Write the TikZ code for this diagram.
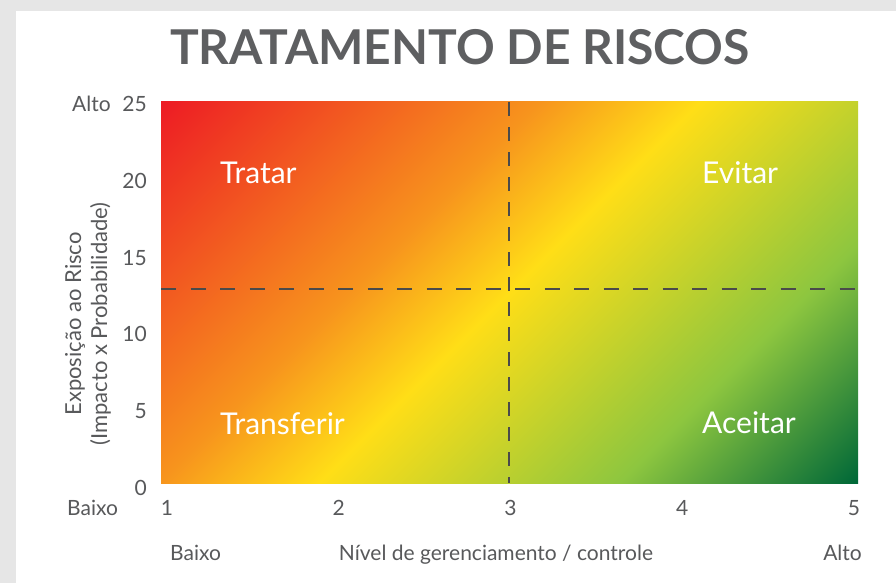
\documentclass[tikz,border=0pt]{standalone}
\usepackage{fontspec}
\setmainfont{Lato}
\usetikzlibrary{positioning}
\definecolor{pagegray}{HTML}{E6E6E6}
\definecolor{txtgray}{HTML}{58595B}
\definecolor{titlegray}{HTML}{5E5F61}
\definecolor{dashgray}{HTML}{4A4A4A}
\definecolor{riskred}{HTML}{ED1C24}
\definecolor{riskorange}{HTML}{F7941D}
\definecolor{riskyellow}{HTML}{FFDE17}
\definecolor{risklime}{HTML}{8DC63F}
\definecolor{riskgreen}{HTML}{006838}
\pgfdeclarehorizontalshading{risk}{100bp}{color(0bp)=(riskred); color(25bp)=(riskred);
  color(42.5bp)=(riskorange); color(50bp)=(riskyellow); color(64bp)=(risklime);
  color(75bp)=(riskgreen); color(100bp)=(riskgreen)}

\begin{document}
\begin{tikzpicture} [
     x=1pt, y=-1pt,
   lbl/.style  = {text=txtgray, inner sep=0pt, font=\fontsize{21}{26}\selectfont},
   quad/.style = {text=white, inner sep=0pt, anchor=base west, font=\fontsize{30}{30}\selectfont},
   divider/.style = {draw=dashgray, line width=2.5pt}
]
  % Page and panel
  \fill[pagegray] (0,0) rectangle (896,583);
  \fill[white] (16,11) rectangle (896,583);
  \useasboundingbox (0,0) rectangle (896,583);

  % Plot corners
  \coordinate (tl) at (161,102);
  \coordinate (br) at (858,483);
  \coordinate (midtop)   at (509,102);
  \coordinate (midbot)   at (509,483);
  \coordinate (midleft)  at (161,289);
  \coordinate (midright) at (858,289);

  % Gradient field (square of half side (W+H)/(2 sqrt 2) round the centre)
  \begin{scope}
    \clip (tl) rectangle (br);
    \shade[shading=risk, shading angle=-45] (128.3,-88.7) rectangle (890.7,673.7);
  \end{scope}

  % Dividers
  \draw[divider, dash pattern=on 15pt off 14.5pt] (midleft) -- (midright);
  \draw[divider, dash pattern=on 14pt off 11pt] (midtop) -- (midbot);

  % Title
  \node[text=titlegray, inner sep=0pt, anchor=base, font=\fontsize{48}{48}\selectfont\bfseries] (title) at (460,65) {TRATAMENTO DE RISCOS};

  % Quadrants
  \node[quad] (tratar)     at (220,183) {Tratar};
  \node[quad] (evitar)     at (702,183) {Evitar};
  \node[quad] (transferir) at (220,434) {Transferir};
  \node[quad] (aceitar)    at (702,433) {Aceitar};

  % Y axis
  \foreach \v [count=\i from 0] in {0,5,...,25}
    \node[lbl, anchor=base east] (y\v) at (147,{495-\i*76.6}) {\v};
  \node[lbl, anchor=base west] (yalto)  at (72,112) {Alto};
  \node[lbl, anchor=base west] (ybaixo) at (67,515) {Baixo};
  \node[lbl, rotate=90, align=center, font=\fontsize{22}{26}\selectfont] (ytitle) at (88,324) {Exposição ao Risco\\(Impacto x Probabilidade)};

  % X axis
  \foreach \n in {1,...,5}
    \node[lbl, anchor=base] (x\n) at ({167+171.75*(\n-1)},515) {\n};
  \node[lbl, anchor=base west] (xbaixo) at (170,560) {Baixo};
  \node[lbl, anchor=base]      (xtitle) at (496,560) {Nível de gerenciamento / controle};
  \node[lbl, anchor=base east] (xalto)  at (862,560) {Alto};
\end{tikzpicture}
\end{document}
